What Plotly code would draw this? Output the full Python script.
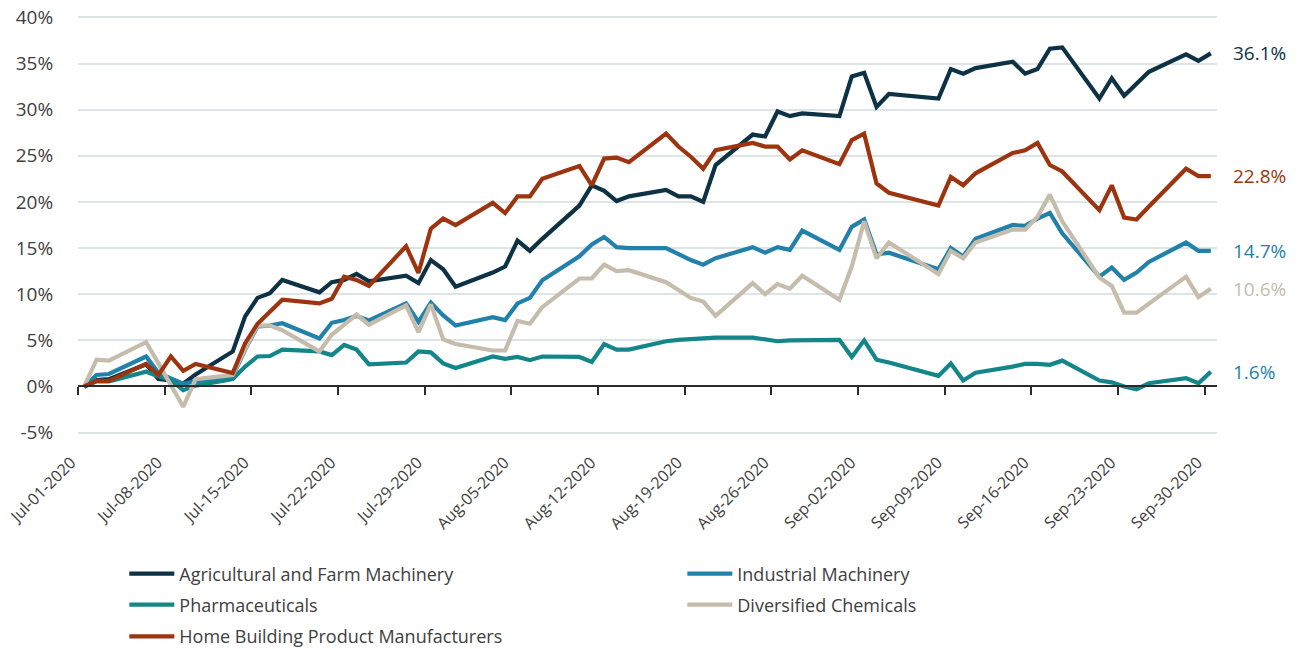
import pandas as pd
import plotly.graph_objects as go

# trading days, Jul 3 included as in the source data
dates = pd.to_datetime([
    "2020-07-01", "2020-07-02", "2020-07-03", "2020-07-06", "2020-07-07", "2020-07-08",
    "2020-07-09", "2020-07-10", "2020-07-13", "2020-07-14", "2020-07-15", "2020-07-16",
    "2020-07-17", "2020-07-20", "2020-07-21", "2020-07-22", "2020-07-23", "2020-07-24",
    "2020-07-27", "2020-07-28", "2020-07-29", "2020-07-30", "2020-07-31",
    "2020-08-03", "2020-08-04", "2020-08-05", "2020-08-06", "2020-08-07", "2020-08-10",
    "2020-08-11", "2020-08-12", "2020-08-13", "2020-08-14", "2020-08-17", "2020-08-18",
    "2020-08-19", "2020-08-20", "2020-08-21", "2020-08-24", "2020-08-25", "2020-08-26",
    "2020-08-27", "2020-08-28", "2020-08-31",
    "2020-09-01", "2020-09-02", "2020-09-03", "2020-09-04", "2020-09-08", "2020-09-09",
    "2020-09-10", "2020-09-11", "2020-09-14", "2020-09-15", "2020-09-16", "2020-09-17",
    "2020-09-18", "2020-09-21", "2020-09-22", "2020-09-23", "2020-09-24", "2020-09-25",
    "2020-09-28", "2020-09-29", "2020-09-30",
])

agri = [0, 0.7, 0.8, 2.4, 0.8, 0.65, 0.3, 1.3, 3.8, 7.6, 9.6, 10.1, 11.55, 10.2, 11.3,
        11.55, 12.2, 11.4, 12.0, 11.2, 13.7, 12.7, 10.8,
        12.35, 13.0, 15.8, 14.7, 16.0, 19.6, 21.8, 21.2, 20.1, 20.6, 21.3, 20.6, 20.6, 20.0,
        24.0, 27.3, 27.1, 29.8, 29.3, 29.6, 29.3,
        33.6, 34.0, 30.3, 31.7, 31.2, 34.4, 33.9, 34.5, 35.2, 33.9, 34.4, 36.6, 36.75, 31.2,
        33.4, 31.5, 32.8, 34.1, 36.0, 35.3, 36.1]
industrial = [0, 1.25, 1.35, 3.25, 1.45, 0.9, 0.3, 0.55, 1.1, 4.0, 6.5, 6.6, 6.85, 5.2, 6.9,
              7.2, 7.65, 7.15, 9.0, 7.0, 9.1, 7.7, 6.6,
              7.5, 7.2, 9.0, 9.6, 11.5, 14.1, 15.4, 16.2, 15.1, 15.0, 15.0, 14.3, 13.7, 13.2,
              13.9, 15.1, 14.5, 15.1, 14.8, 16.9, 14.8,
              17.3, 18.1, 14.3, 14.5, 12.7, 15.0, 14.1, 16.0, 17.5, 17.4, 18.2, 18.8, 16.6, 11.9,
              12.9, 11.55, 12.35, 13.5, 15.6, 14.7, 14.7]
pharma = [0, 0.55, 0.55, 1.6, 1.1, 0.7, -0.4, 0.1, 0.8, 2.15, 3.25, 3.3, 4.0, 3.8, 3.4,
          4.5, 4.0, 2.4, 2.6, 3.8, 3.7, 2.5, 2.0,
          3.25, 3.0, 3.2, 2.85, 3.25, 3.2, 2.65, 4.6, 4.0, 4.0, 4.9, 5.05, 5.15, 5.3,
          5.3, 5.3, 5.1, 4.9, 5.0, 5.0, 5.05,
          3.2, 5.0, 2.9, 2.6, 1.15, 2.5, 0.65, 1.5, 2.15, 2.45, 2.45, 2.35, 2.8, 0.65,
          0.45, 0.0, -0.3, 0.35, 0.9, 0.35, 1.6]
chemicals = [0, 2.9, 2.8, 4.8, 2.5, 0.2, -2.2, 0.8, 1.25, 4.1, 6.6, 6.6, 6.1, 3.8, 5.6,
             6.7, 7.8, 6.7, 8.8, 5.9, 8.9, 5.1, 4.6,
             3.9, 3.9, 7.1, 6.8, 8.6, 11.7, 11.7, 13.2, 12.5, 12.6, 11.3, 10.5, 9.6, 9.2,
             7.65, 11.2, 10.0, 11.1, 10.6, 12.0, 9.4,
             13.0, 17.9, 13.9, 15.6, 12.2, 14.7, 13.9, 15.6, 17.0, 17.0, 18.4, 20.8, 17.9, 11.8,
             10.9, 8.0, 8.0, 9.0, 11.9, 9.7, 10.6]
home = [0, 0.6, 0.6, 2.45, 1.25, 3.25, 1.7, 2.45, 1.45, 4.7, 6.8, 8.1, 9.4, 9.0, 9.5,
        11.9, 11.55, 10.9, 15.2, 12.3, 17.1, 18.2, 17.5,
        19.9, 18.8, 20.6, 20.6, 22.5, 23.9, 21.8, 24.7, 24.8, 24.3, 27.4, 26.0, 24.9, 23.6,
        25.6, 26.4, 26.0, 26.0, 24.6, 25.6, 24.1,
        26.7, 27.4, 22.0, 21.0, 19.6, 22.7, 21.8, 23.1, 25.3, 25.6, 26.4, 24.0, 23.3, 19.1,
        21.8, 18.3, 18.1, 19.5, 23.6, 22.8, 22.8]

y_ticks = [-5, 0, 5, 10, 15, 20, 25, 30, 35, 40]
y_labels = [f"{v}%" for v in y_ticks]
# a hair of padding so the -5% / 40% gridlines are not clipped at the edges
y_range = [-5.15, 40.15]

week_ticks = pd.date_range("2020-07-01", "2020-09-30", freq="7D")
tick_text = [d.strftime("%b-%d-%Y") for d in week_ticks]
# ticks sit half a day before each date (Excel "between tick marks" look)
tick_vals = week_ticks - pd.Timedelta(hours=12)
x_range = [dates[0] - pd.Timedelta(hours=12), dates[-1] + pd.Timedelta(hours=12)]

# name, values, line colour, end-label colour, legend row
series = [
    ("Agricultural and Farm Machinery", agri, "#0c3244", "#0c3244", "legend"),
    ("Industrial Machinery", industrial, "#2181ab", "#2181ab", "legend"),
    ("Pharmaceuticals", pharma, "#13868a", "#2181ab", "legend2"),
    ("Diversified Chemicals", chemicals, "#c5bcab", "#c5bcab", "legend2"),
    ("Home Building Product Manufacturers", home, "#9d3410", "#9d3410", "legend3"),
]

TEXT = "#404040"
FONT = "Open Sans"

fig = go.Figure()
for name, vals, color, _, leg in series:
    fig.add_trace(go.Scatter(x=dates, y=vals, name=name, mode="lines", legend=leg,
                             line=dict(color=color, width=4.2)))

# carrier trace for the axis drawn at the 0% line
fig.add_trace(go.Scatter(x=dates[:1], y=[0], xaxis="x2", mode="lines",
                         showlegend=False, hoverinfo="skip",
                         line=dict(width=0)))

for name, vals, color, label_color, _ in series:
    fig.add_annotation(x=1, xref="paper", y=vals[-1], yref="y",
                       text=f"{vals[-1]:.1f}%", showarrow=False,
                       xanchor="left", xshift=14,
                       font=dict(family=FONT, size=19, color=label_color))

legend_style = dict(orientation="h", xref="container", yref="container",
                    x=0.0954, xanchor="left", yanchor="middle",
                    entrywidth=498, entrywidthmode="pixels", itemwidth=45,
                    font=dict(family=FONT, size=18, color=TEXT))

fig.update_layout(
    width=1303, height=649,
    margin=dict(l=78, r=86, t=16, b=215, autoexpand=False),
    plot_bgcolor="white", paper_bgcolor="white",
    font=dict(family=FONT, size=17, color=TEXT),
    xaxis=dict(type="date", range=x_range, tickvals=tick_vals, ticktext=tick_text,
               tickangle=-45, showgrid=False, zeroline=False, showline=False,
               ticks="outside", ticklen=12, tickcolor="rgba(0,0,0,0)",
               ticklabelshift=-7, ticklabeloverflow="allow",
               tickfont=dict(size=16, color=TEXT), automargin=False),
    xaxis2=dict(type="date", overlaying="x", matches="x", anchor="free",
                position=(0 - y_range[0]) / (y_range[1] - y_range[0]), side="bottom",
                range=x_range, tickvals=tick_vals,
                showticklabels=False, showgrid=False, zeroline=False,
                showline=True, linecolor="#2b2b2b", linewidth=1.5,
                ticks="outside", ticklen=8, tickwidth=1.5, tickcolor="#2b2b2b",
                automargin=False),
    yaxis=dict(range=y_range, tickvals=y_ticks, ticktext=y_labels, showgrid=True,
               gridcolor="#dce4e5", gridwidth=1.5, zeroline=False,
               ticks="outside", ticklen=20, tickcolor="rgba(0,0,0,0)",
               ticklabeloverflow="allow",
               tickfont=dict(size=19, color=TEXT), automargin=False),
    legend=dict(y=0.1156, **legend_style),
    legend2=dict(y=0.0678, **legend_style),
    legend3=dict(y=0.0190, **legend_style),
    showlegend=True,
)

# drop the browser's default body margin so the figure fills the window exactly
fig.write_html("out.html", config={"displayModeBar": False},
               post_script="document.body.style.margin = '0';")
